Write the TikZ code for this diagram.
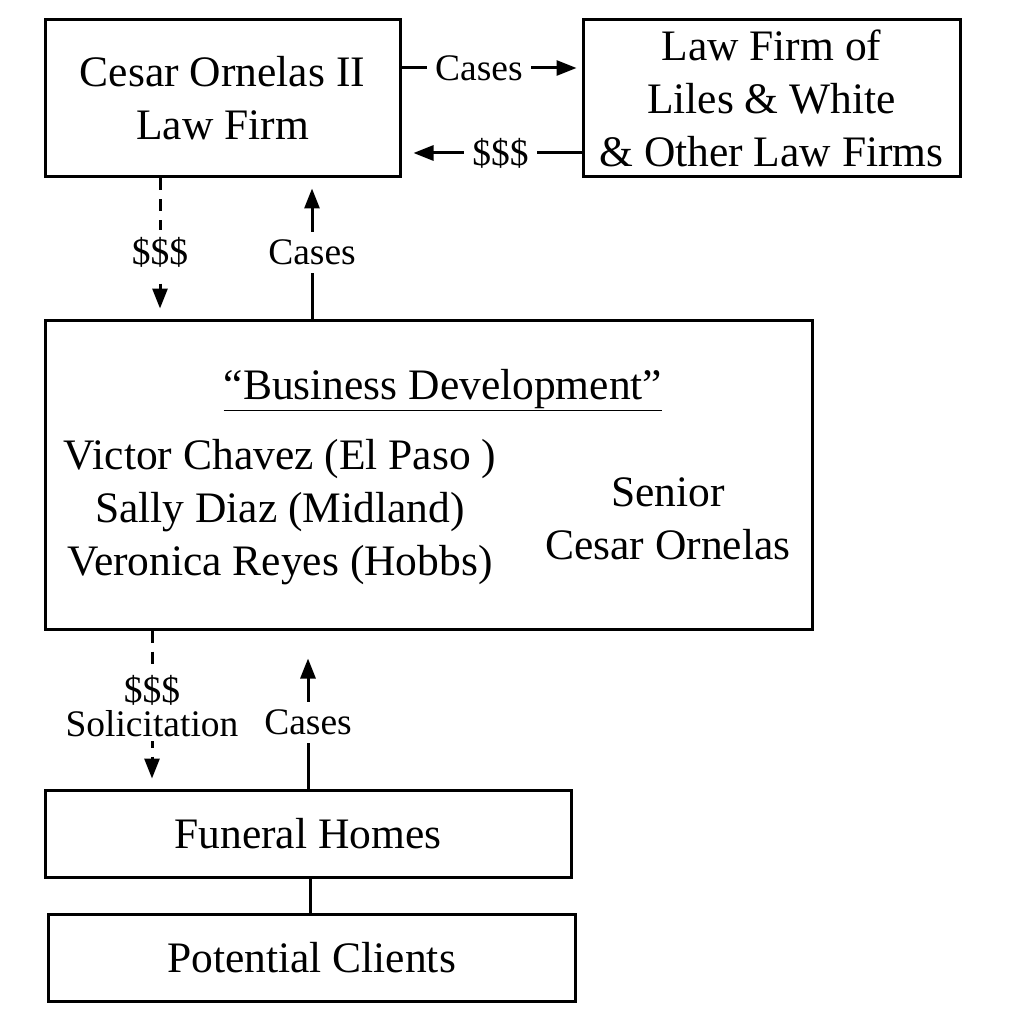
\documentclass[tikz,border=0pt]{standalone}
\usepackage{fontspec}
\setmainfont{Liberation Serif}
\usetikzlibrary{arrows.meta,calc}
\begin{document}
\begin{tikzpicture}[x=1pt,y=-1pt,
  box/.style={draw,line width=3pt,rectangle,inner sep=0pt,align=center,font=\fontsize{43.5}{53}\selectfont},
  lbl/.style={fill=white,inner sep=8pt,align=center,font=\fontsize{37.5}{31}\selectfont},
  arr/.style={line width=3pt,-{Triangle[length=20pt,width=15pt]}},
  dsh/.style={arr,dash pattern=on 12pt off 9pt},
  txt/.style={align=center,font=\fontsize{43.5}{53}\selectfont}]
\useasboundingbox (0,0) rectangle (1024,1024);
\node[box,minimum width=355pt,minimum height=157pt] (A) at (222.5,98.5) {Cesar Ornelas II\\Law Firm};
\node[box,minimum width=377pt,minimum height=157pt] (B) at (771.5,98.5) {Law Firm of\\Liles \& White\\\& Other Law Firms};
\node[box,minimum width=767pt,minimum height=309pt] (C) at (428.5,474.5) {};
\node[box,minimum width=526pt,minimum height=87pt] (D) at (308,833.5) {Funeral Homes};
\node[box,minimum width=527pt,minimum height=87pt] (E) at (311.5,957.5) {Potential Clients};
\node[txt] (title) at (443,390) {\underline{“Business Development”}};
\node[txt] (people) at (280,512) {Victor Chavez (El Paso )\\Sally Diaz (Midland)\\Veronica Reyes (Hobbs)};
\node[txt] (senior) at (668,519) {Senior\\Cesar Ornelas};
% top horizontal
\draw[arr,shorten >=5pt] ([yshift=30.5pt]A.east) -- node[lbl,pos=0.43]{Cases} ([yshift=30.5pt]B.west) ;
\draw[arr,shorten >=12pt] ([yshift=-54.5pt]B.west) -- node[lbl,pos=0.45]{\$\$\$} ([yshift=-54.5pt]A.east);
% A <-> C
\coordinate (a1) at ([xshift=-62.5pt]A.south);
\coordinate (a2) at ([xshift=89.5pt]A.south);
\draw[dsh,shorten >=10pt] (a1) -- node[lbl,pos=0.53]{\$\$\$} (a1 |- C.north);
\draw[arr,shorten >=10pt] (a2 |- C.north) -- node[lbl,pos=0.47]{Cases} (a2);
% C <-> D
\coordinate (c1) at ([xshift=-276.5pt]C.south);
\coordinate (c2) at ([xshift=-120.5pt]C.south);
\draw[dsh,shorten >=10pt] (c1) -- node[lbl,pos=0.48,inner sep=4pt,font=\fontsize{37.5}{34}\selectfont]{\$\$\$\\Solicitation} (c1 |- D.north);
\draw[arr,shorten >=28pt] (c2 |- D.north) -- node[lbl,pos=0.42]{Cases} (c2);
% D - E
\draw[line width=3pt] (D.south -| 310,0) -- (E.north -| 310,0);
\end{tikzpicture}
\end{document}
